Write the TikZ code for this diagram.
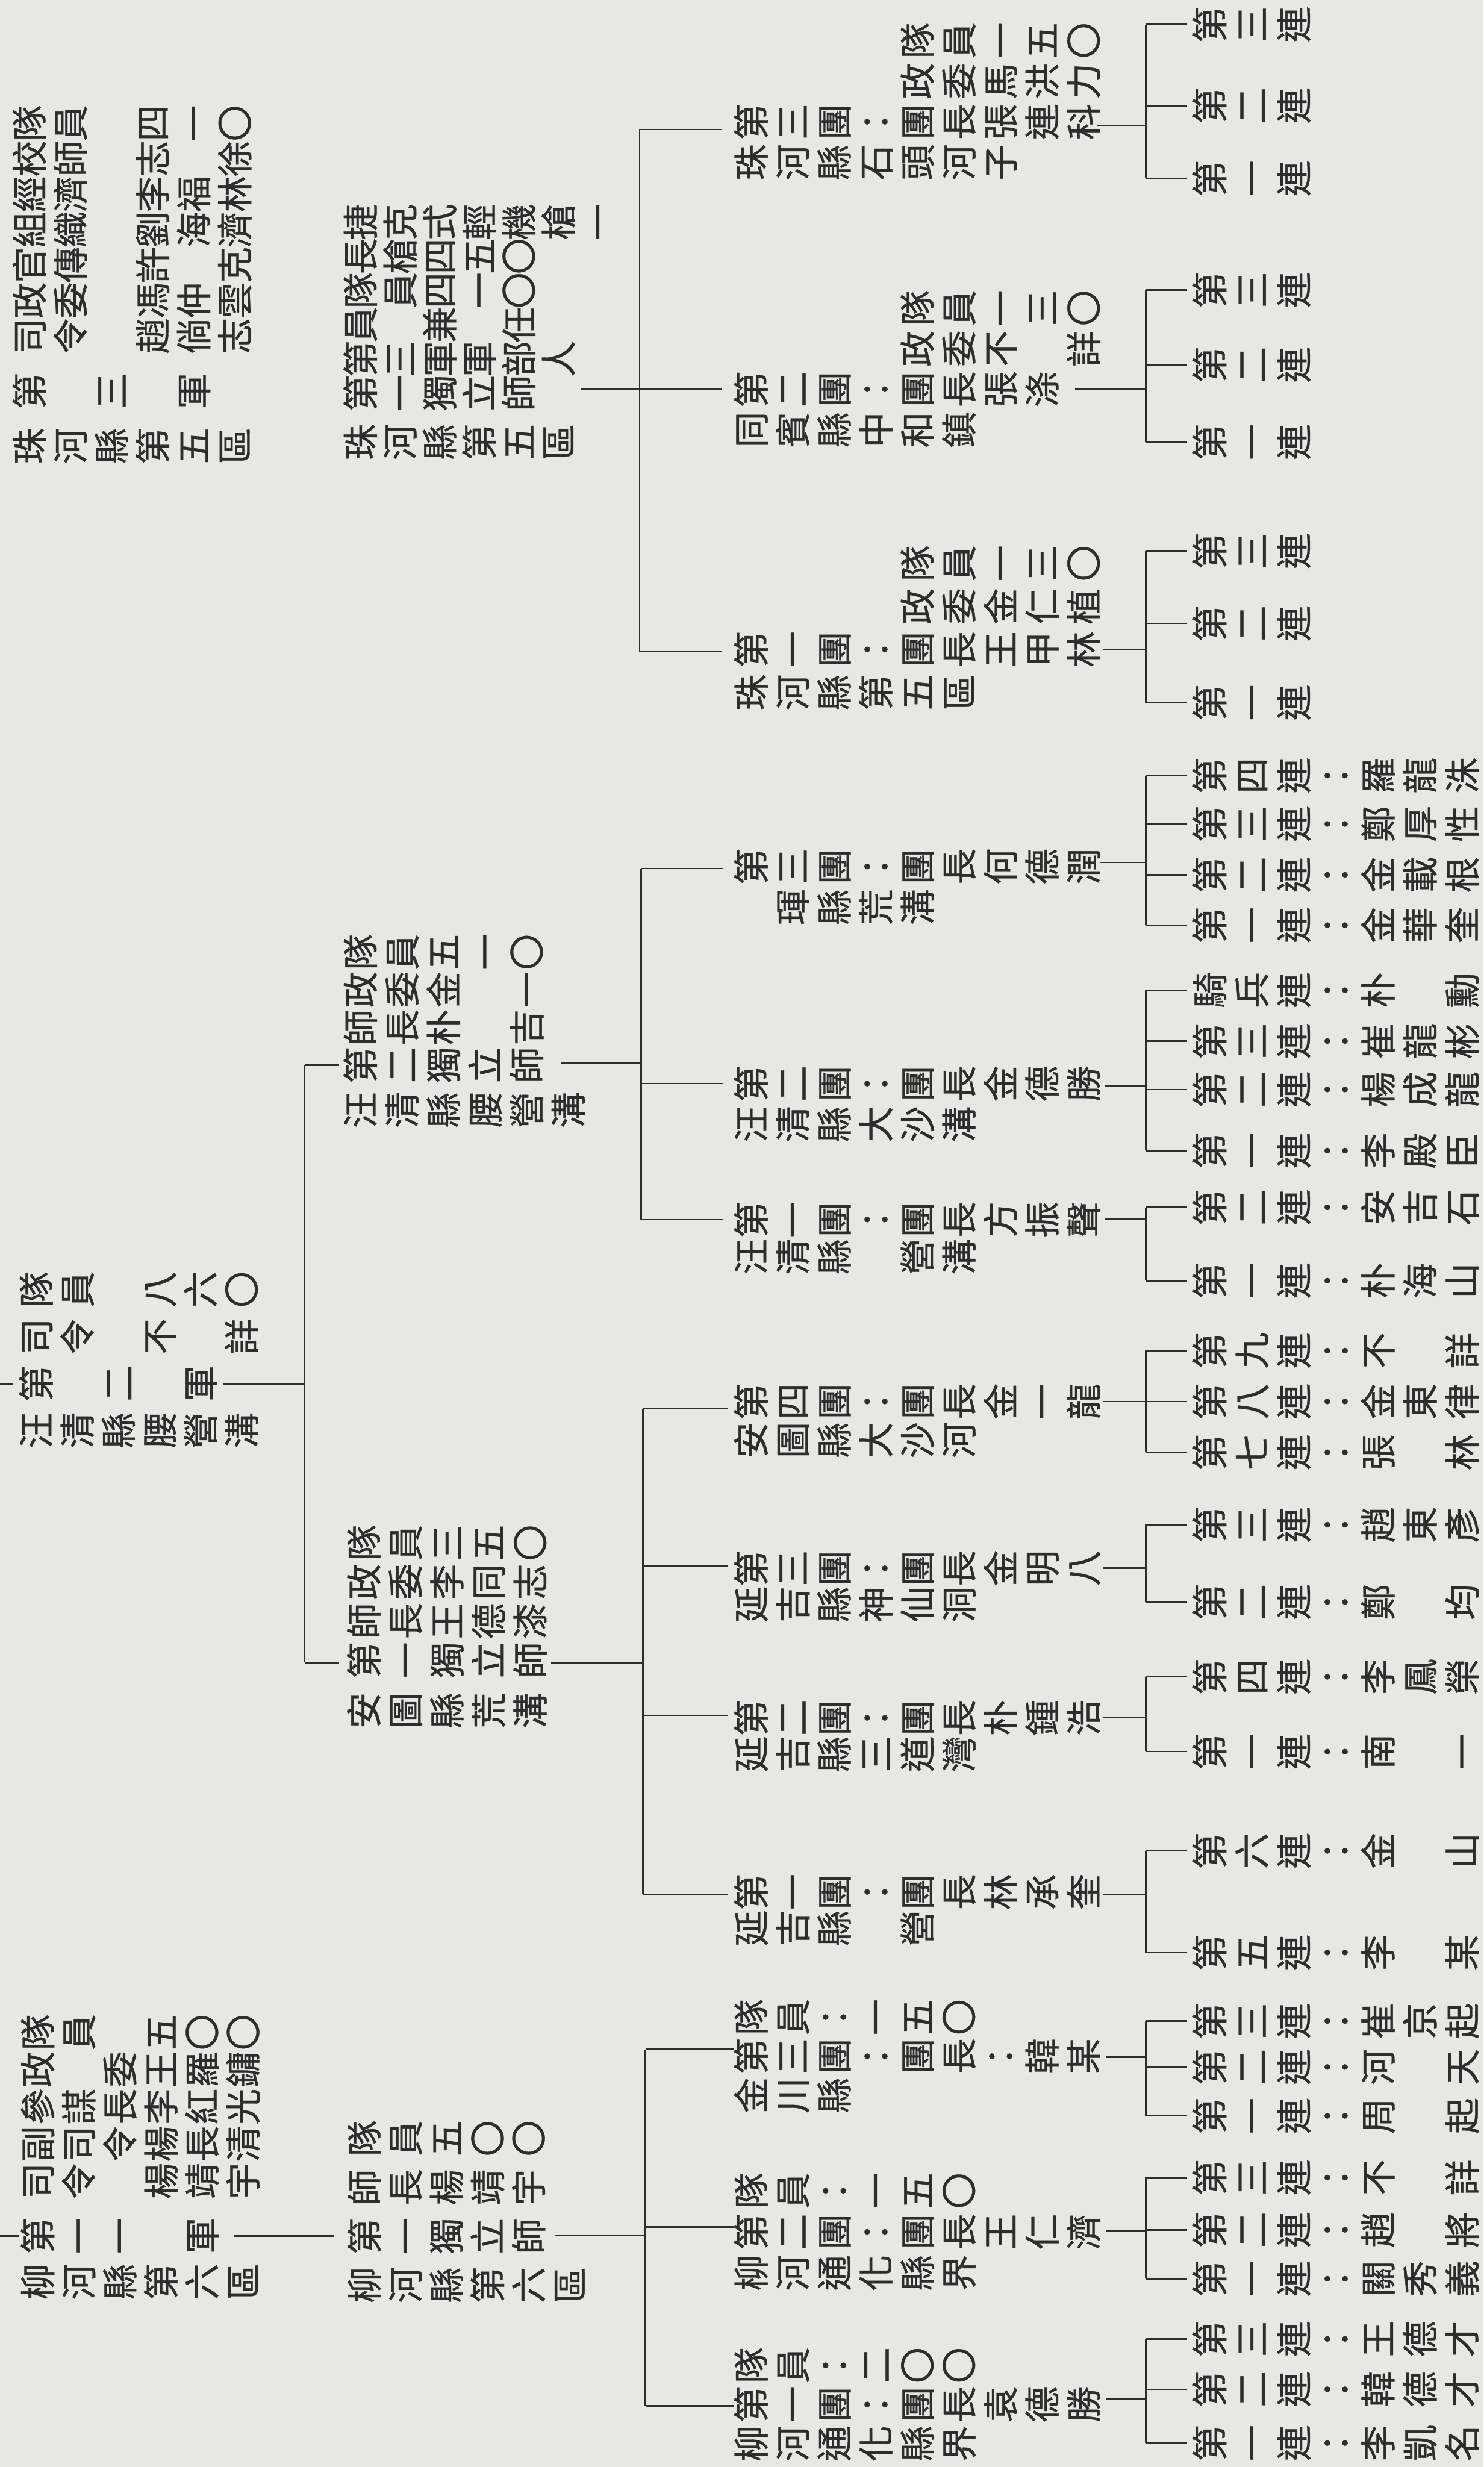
\documentclass[tikz,border=0pt]{standalone}
\usepackage{fontspec}
\newfontfamily\cjk[FakeBold=0.6]{Noto Sans CJK TC}
\usetikzlibrary{positioning}
\definecolor{paper}{RGB}{231,231,228}
\definecolor{ink}{RGB}{45,45,45}

\newlength\unitpx \setlength\unitpx{0.01cm}
\newlength\cellw \newlength\cellh \newlength\cellg
\makeatletter
\def\gapmark{+}\def\blankmark{.}
\newcommand\cellbox[1]{\makebox[\cellw]{\rule[\dimexpr.38em-.5\cellh\relax]{0pt}{\cellh}\ifx#1\blankmark\else#1\fi}}
\newcommand\gridrow[1]{\@tfor\cc:=#1\do{\ifx\cc\gapmark\hspace*{\cellg}\else\cellbox\cc\fi}}
\newcommand\gridrows[1]{\vbox{\offinterlineskip\@for\rr:=#1\do{\hbox{\expandafter\gridrow\expandafter{\rr}}}}}
\newcommand\vcol[1]{\vbox{\offinterlineskip\@tfor\cc:=#1\do{\hbox{\cellbox\cc}}}}
\makeatother
\newcommand\blk[7]{\node[chars] (#1) at ({#2-#4/2},{#5/2-#3})
  {\setlength\cellw{#4\unitpx}\setlength\cellh{#5\unitpx}\setlength\cellg{#6\unitpx}\gridrows{#7}};}
\newcommand\comp[3]{\node[chars] (#1) at ({#2-40},{43-2474})
  {\setlength\cellw{80\unitpx}\setlength\cellh{86\unitpx}\vcol{#3}};}
\newcommand\fork[7]{\draw[link] (#1,-#2) -- (#1,-#3);
  \draw[link] (#5,-#3) -- (#6,-#3);
  \foreach \cu in {#7} {\draw[link] (\cu,-#3) -- (\cu,-#4);}}

\begin{document}
\begin{tikzpicture}[rotate=90, transform shape, x=0.01cm, y=0.01cm,
    chars/.style={anchor=north west, inner sep=0pt, outer sep=0pt, text=ink,
                  font=\cjk\fontsize{21}{21}\selectfont},
    link/.style={draw=ink, line width=0.9pt}]
  \fill[paper] (0,0) rectangle (5045,-3034);
  \useasboundingbox (0,0) rectangle (5045,-3034);

  \blk{armyA}{379}{77}{76}{84}{18}{柳+第++司副參政隊,河+一++令司謀.員,縣+一++.令長委.,第+.++楊楊李王五,六+軍++靖長紅羅〇,區+.++宇清光鏞〇}
  \blk{divA}{372}{745}{100}{84}{0}{柳第師隊,河一長員,縣獨楊五,第立靖〇,六師宇〇,區...}
  \blk{regA1}{48}{1536}{80}{85}{0}{柳第隊,河一員,通團：,化：二,縣團〇,界長〇,.袁.,.德.,.勝.}
  \blk{regA2}{397}{1536}{84}{85}{0}{柳第隊,河二員,通團：,化：一,縣團五,界長〇,.王.,.仁.,.濟.}
  \blk{regA3}{760}{1536}{80}{85}{0}{金第隊,川三員,縣團：,.：一,.團五,.長〇,.：.,.韓.,.某.}

  \blk{armyB}{2120}{74}{96}{84}{0}{汪第司隊,清.令員,縣二..,腰.不八,營軍.六,溝.詳〇}
  \blk{divB1}{1547}{744}{80}{85}{23}{安+第師政隊,圖+一長委員,縣+獨王李三,荒+立德同五,溝+師漆志〇}
  \blk{divB2}{2775}{737}{77}{85}{15}{汪+第師政隊,清+二長委員,縣+獨朴金五,腰+立..一,營+師吉一〇,溝+....}
  \blk{regB1}{1102}{1536}{74}{85}{0}{延第,吉一,縣團,.：,營團,.長,.林,.承,.奎}
  \blk{regB2}{1458}{1536}{74}{85}{0}{延第,吉二,縣團,三：,道團,灣長,.朴,.鍾,.浩}
  \blk{regB3}{1764}{1536}{74}{85}{0}{延第,吉三,縣團,神：,仙團,洞長,.金,.明,.八}
  \blk{regB4}{2100}{1536}{79}{85}{0}{安第,圖四,縣團,大：,沙團,河長,.金,.一,.龍}
  \blk{regB5}{2475}{1536}{76}{85}{0}{汪第,清一,縣團,.：,營團,溝長,.方,.振,.聲}
  \blk{regB6}{2746}{1536}{83}{85}{0}{汪第,清二,縣團,大：,沙團,溝長,.金,.德,.勝}
  \blk{regB7}{3190}{1536}{83}{85}{0}{.第,琿三,縣團,荒：,溝團,.長,.何,.德,.潤}

  \blk{armyC}{4133}{60}{72.5}{84}{20}{珠++第++司政官組經校隊,河++.++令委傳織濟師員,縣++三++.......,第++.++趙馮許劉李志四,五++軍++倘仲.海福.一,區++.++志雲克濟林徐〇}
  \blk{divC}{4141}{737}{70}{81}{30}{珠+第第員隊長捷,河+一三.員槍克,縣+獨軍兼四四式,第+立軍.一五輕,五+師部任〇〇機,區+.人...槍,.+.....一}
  \blk{regC1}{3629}{1536}{88}{85}{0}{珠第..,河一..,縣團..,第：..,五團政隊,區長委員,.王金一,.甲仁三,.林植〇}
  \blk{regC2}{4166}{1536}{83}{85}{0}{同第..,賓二..,縣團..,中：..,和團政隊,鎮長委員,.張不一,.涤.三,..詳〇}
  \blk{regC3}{4713}{1536}{83}{85}{0}{珠第..,河三..,縣團..,石：..,頭團政隊,河長委員,子張馬一,.連洪五,.科力〇}

  \comp{a11}{49}{第一連：李凱名}  \comp{a12}{159}{第二連：韓德才}  \comp{a13}{262}{第三連：王德才}
  \comp{a21}{385}{第一連：關秀義} \comp{a22}{485}{第二連：趙.將}  \comp{a23}{592}{第三連：不.詳}
  \comp{a31}{718}{第一連：周.起}  \comp{a32}{818}{第二連：河.天}  \comp{a33}{912}{第三連：崔京起}
  \comp{b15}{1052}{第五連：李.某} \comp{b16}{1260}{第六連：金.山}
  \comp{b21}{1463}{第一連：南.一} \comp{b24}{1616}{第四連：李鳳榮}
  \comp{b32}{1769}{第二連：鄭.均} \comp{b33}{1927}{第三連：趙東彥}
  \comp{b47}{2075}{第七連：張.林} \comp{b48}{2179}{第八連：金東律} \comp{b49}{2283}{第九連：不.詳}
  \comp{b51}{2426}{第一連：朴海山} \comp{b52}{2576}{第二連：安吉石}
  \comp{b61}{2692}{第一連：李殿臣} \comp{b62}{2817}{第二連：楊成龍} \comp{b63}{2916}{第三連：崔龍彬} \comp{b6k}{3020}{騎兵連：朴.勳}
  \comp{b71}{3153}{第一連：金華奎} \comp{b72}{3256}{第二連：金載根} \comp{b73}{3360}{第三連：鄭厚性} \comp{b74}{3459}{第四連：羅龍洙}
  \comp{c11}{3608}{第一連} \comp{c12}{3770}{第二連} \comp{c13}{3918}{第三連}
  \comp{c21}{4141}{第一連} \comp{c22}{4299}{第二連} \comp{c23}{4452}{第三連}
  \comp{c31}{4680}{第一連} \comp{c32}{4829}{第二連} \comp{c33}{4995}{第三連}

  \draw[link] (472,0) -- (472,-38);
  \draw[link] (2214,0) -- (2214,-27);
  \draw[link] (472,-479) -- (472,-683);
  \fork{2214}{456}{623}{693}{1645}{2867}{1645,2867}
  \fork{474}{1134}{1320}{1502}{125}{854}{125,491,854}
  \fork{1645}{1127}{1315}{1489}{1171}{2164}{1171,1537,1843,2164}
  \fork{2871}{1147}{1311}{1479}{2551}{3269}{2551,2829,3269}
  \fork{4249}{1188}{1308}{1476}{3712}{4780}{3712,4249,4780}

  \fork{139}{2262}{2343}{2428}{49}{262}{49,159,262}
  \fork{482}{2262}{2343}{2428}{385}{592}{385,485,592}
  \fork{838}{2262}{2343}{2428}{718}{912}{718,818,912}
  \fork{1171}{2257}{2343}{2428}{1052}{1260}{1052,1260}
  \fork{1532}{2257}{2343}{2428}{1463}{1616}{1463,1616}
  \fork{1838}{2257}{2343}{2428}{1769}{1927}{1769,1927}
  \fork{2179}{2257}{2343}{2428}{2075}{2283}{2075,2179,2283}
  \fork{2552}{2260}{2343}{2428}{2426}{2576}{2426,2576}
  \fork{2825}{2260}{2343}{2428}{2692}{3020}{2692,2817,2916,3020}
  \fork{3281}{2250}{2343}{2428}{3153}{3459}{3153,3256,3360,3459}
  \fork{3716}{2255}{2343}{2428}{3608}{3918}{3608,3770,3918}
  \fork{4249}{2198}{2343}{2428}{4141}{4452}{4141,4299,4452}
  \fork{4788}{2244}{2343}{2428}{4680}{4995}{4680,4829,4995}
\end{tikzpicture}
\end{document}
